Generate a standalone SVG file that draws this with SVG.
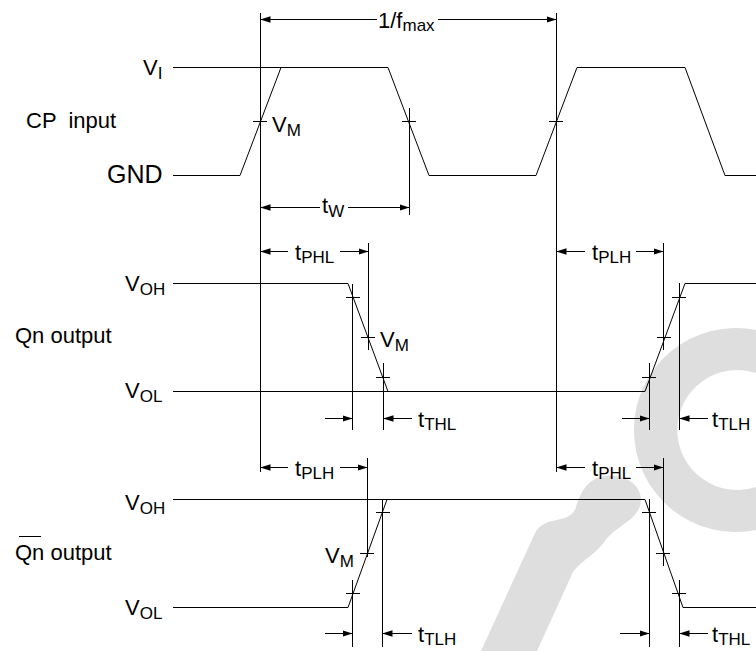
<svg xmlns="http://www.w3.org/2000/svg" width="756" height="651" viewBox="0 0 756 651">
<defs>
<marker id="ah" markerUnits="userSpaceOnUse" markerWidth="10" markerHeight="8" refX="10" refY="4" orient="auto-start-reverse">
<path d="M0,0.8 L10,4 L0,7.2 z" fill="#000"/>
</marker>
<style>
.w{fill:none;stroke:#000;stroke-width:1}
.g{stroke:#000;stroke-width:1;fill:none}
.a{stroke:#000;stroke-width:1;fill:none;marker-end:url(#ah)}
.t{font-family:"Liberation Sans",Arial,sans-serif;font-size:22px;fill:#000}
.s{font-size:17px}
.big{font-family:"Liberation Sans",Arial,sans-serif;font-size:25px;fill:#000}
.wm{fill:#dedede}
</style>
</defs>
<rect width="756" height="651" fill="#fff"/>
<g id="watermark">
<path class="wm" d="M756,330 A102,102 0 1 0 756,530 L756,487 A60,60 0 1 1 756,373 Z"/>
<path class="wm" d="M481,651 L535,533 C545,515 565,525 575,510 C580,495 585,478 607,476 C630,474 645,490 640,506 C635,521 615,527 605,541 C595,555 582,560 573,572 L537,651 Z"/>
</g>
<g id="cp-input">
<text class="t" x="26" y="128" style="white-space:pre">CP  input</text>
<text class="t" x="143" y="75">V<tspan class="s" dy="4">I</tspan></text>
<text class="big" x="107" y="183">GND</text>
<line class="g" x1="173" y1="67.5" x2="281" y2="67.5"/>
<polyline class="w" points="173,175.5 240,175.5 281,67.5 388,67.5 429,175.5 536,175.5 577,67.5 685,67.5 725,175.5 756,175.5"/>
<text class="t" x="272" y="132">V<tspan class="s" dy="4">M</tspan></text>
</g>
<g id="qn-output">
<text class="t" x="15" y="343">Qn output</text>
<text class="t" x="125" y="291">V<tspan class="s" dy="4">OH</tspan></text>
<text class="t" x="125" y="398">V<tspan class="s" dy="4">OL</tspan></text>
<polyline class="w" points="173,283.5 348,283.5 388,391.5 645,391.5 685,283.5 756,283.5"/>
<line class="g" x1="173" y1="391.5" x2="388" y2="391.5"/>
<text class="t" x="380" y="347">V<tspan class="s" dy="4">M</tspan></text>
</g>
<g id="qnbar-output">
<text class="t" x="15" y="560">Qn output</text>
<line class="g" x1="19" y1="536.5" x2="41" y2="536.5"/>
<text class="t" x="125" y="510">V<tspan class="s" dy="4">OH</tspan></text>
<text class="t" x="125" y="615">V<tspan class="s" dy="4">OL</tspan></text>
<polyline class="w" points="173,607.5 348,607.5 387,499.5 645,499.5 683,607.5 756,607.5"/>
<line class="g" x1="173" y1="499.5" x2="387" y2="499.5"/>
<text class="t" x="325" y="563">V<tspan class="s" dy="4">M</tspan></text>
</g>
<g id="connectors">
<line class="g" x1="260.5" y1="13" x2="260.5" y2="472"/>
<line class="g" x1="556.5" y1="13" x2="556.5" y2="472"/>
<line class="g" x1="409.5" y1="108" x2="409.5" y2="215"/>
<line class="g" x1="352.5" y1="284" x2="352.5" y2="430"/>
<line class="g" x1="368.5" y1="243" x2="368.5" y2="350"/>
<line class="g" x1="383.5" y1="363" x2="383.5" y2="430"/>
<line class="g" x1="649.5" y1="363" x2="649.5" y2="430"/>
<line class="g" x1="663.5" y1="243" x2="663.5" y2="350"/>
<line class="g" x1="679.5" y1="283" x2="679.5" y2="430"/>
<line class="g" x1="352.5" y1="580" x2="352.5" y2="647"/>
<line class="g" x1="367.5" y1="458" x2="367.5" y2="557"/>
<line class="g" x1="382.5" y1="499" x2="382.5" y2="647"/>
<line class="g" x1="649.5" y1="499" x2="649.5" y2="647"/>
<line class="g" x1="663.5" y1="458" x2="663.5" y2="566"/>
<line class="g" x1="679.5" y1="580" x2="679.5" y2="647"/>
<path class="g" d="M253,121.5h14 M402,121.5h14 M549,121.5h14 M346,297.5h14 M361,337.5h14 M376,377.5h14 M642,377.5h14 M657,337.5h14 M672,297.5h14 M346,593.5h14 M360,553.5h14 M376,512.5h14 M642,512.5h14 M656,553.5h14 M672,593.5h14"/>
<line class="a" x1="377" y1="19.5" x2="260.5" y2="19.5"/>
<line class="a" x1="438" y1="19.5" x2="556.5" y2="19.5"/>
<text class="t" x="378" y="28">1/f<tspan class="s" dy="3">max</tspan></text>
<line class="a" x1="320" y1="207.5" x2="260.5" y2="207.5"/>
<line class="a" x1="348" y1="207.5" x2="409.5" y2="207.5"/>
<text class="t" x="322" y="213">t<tspan class="s" dy="4">W</tspan></text>
<line class="a" x1="288" y1="251.5" x2="260.5" y2="251.5"/>
<line class="a" x1="340" y1="251.5" x2="368.5" y2="251.5"/>
<text class="t" x="295" y="260">t<tspan class="s" dy="3">PHL</tspan></text>
<line class="a" x1="585" y1="251.5" x2="556.5" y2="251.5"/>
<line class="a" x1="636" y1="251.5" x2="663.5" y2="251.5"/>
<text class="t" x="592" y="260">t<tspan class="s" dy="3">PLH</tspan></text>
<line class="a" x1="325" y1="418.5" x2="352.5" y2="418.5"/>
<line class="a" x1="412" y1="418.5" x2="383.5" y2="418.5"/>
<text class="t" x="418" y="427">t<tspan class="s" dy="3">THL</tspan></text>
<line class="a" x1="622" y1="418.5" x2="649.5" y2="418.5"/>
<line class="a" x1="708" y1="418.5" x2="679.5" y2="418.5"/>
<text class="t" x="712" y="427">t<tspan class="s" dy="3">TLH</tspan></text>
<line class="a" x1="288" y1="467.5" x2="260.5" y2="467.5"/>
<line class="a" x1="340" y1="467.5" x2="367.5" y2="467.5"/>
<text class="t" x="295" y="476">t<tspan class="s" dy="3">PLH</tspan></text>
<line class="a" x1="585" y1="467.5" x2="556.5" y2="467.5"/>
<line class="a" x1="636" y1="467.5" x2="663.5" y2="467.5"/>
<text class="t" x="592" y="476">t<tspan class="s" dy="3">PHL</tspan></text>
<line class="a" x1="325" y1="633.5" x2="352.5" y2="633.5"/>
<line class="a" x1="412" y1="633.5" x2="382.5" y2="633.5"/>
<text class="t" x="418" y="642">t<tspan class="s" dy="3">TLH</tspan></text>
<line class="a" x1="620" y1="633.5" x2="649.5" y2="633.5"/>
<line class="a" x1="708" y1="633.5" x2="679.5" y2="633.5"/>
<text class="t" x="712" y="642">t<tspan class="s" dy="3">THL</tspan></text>
</g>
</svg>
